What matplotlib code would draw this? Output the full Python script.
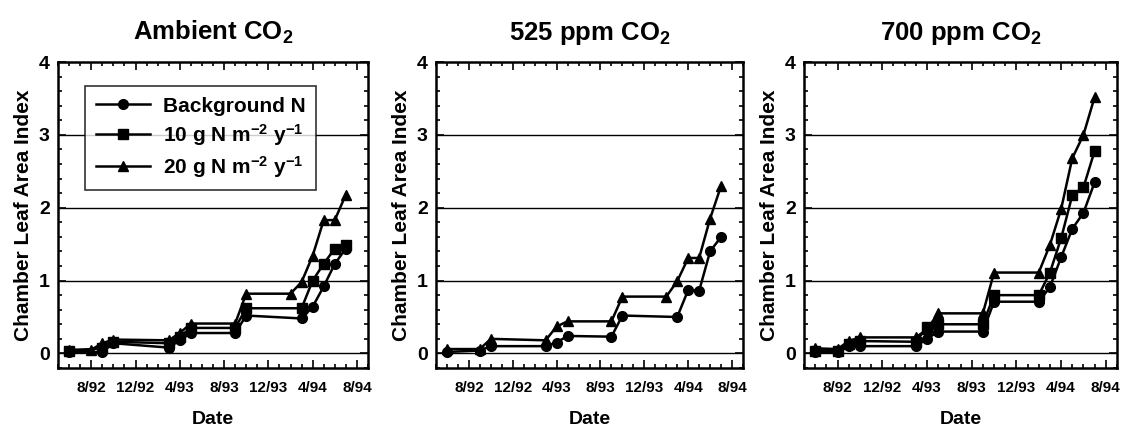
import numpy as np
import matplotlib.pyplot as plt
from matplotlib.ticker import MultipleLocator

plt.rcParams['font.family'] = ['Liberation Sans', 'DejaVu Sans']
plt.rcParams['font.weight'] = 'bold'
plt.rcParams['axes.titleweight'] = 'bold'
plt.rcParams['axes.labelweight'] = 'bold'
plt.rcParams['mathtext.fontset'] = 'custom'
plt.rcParams['mathtext.rm'] = 'Liberation Sans:bold'
plt.rcParams['mathtext.it'] = 'Liberation Sans:bold'
plt.rcParams['mathtext.bf'] = 'Liberation Sans:bold'
plt.rcParams['mathtext.default'] = 'rm'

# months counted from Jan 1992 (0 = 1/92)
tick_months = [7, 11, 15, 19, 23, 27, 31]
tick_labels = ["8/92", "12/92", "4/93", "8/93", "12/93", "4/94", "8/94"]

titles = ["Ambient CO$_2$", "525 ppm CO$_2$", "700 ppm CO$_2$"]
series_names = ["Background N", "10 g N m$^{-2}$ y$^{-1}$", "20 g N m$^{-2}$ y$^{-1}$"]
markers = ["o", "s", "^"]

# ambient CO2
amb_bg_x = [5, 8, 9, 14, 15, 16, 20, 21, 26, 27, 28, 29, 30]
amb_bg_y = [0.02, 0.02, 0.14, 0.08, 0.18, 0.28, 0.28, 0.52, 0.48, 0.64, 0.92, 1.23, 1.44]
amb_10_x = [5, 8, 9, 14, 15, 16, 20, 21, 26, 27, 28, 29, 30]
amb_10_y = [0.04, 0.07, 0.16, 0.14, 0.23, 0.35, 0.35, 0.62, 0.62, 1.00, 1.23, 1.44, 1.49]
amb_20_x = [5, 7, 8, 9, 14, 15, 16, 20, 21, 25, 26, 27, 28, 29, 30]
amb_20_y = [0.05, 0.05, 0.14, 0.19, 0.18, 0.28, 0.41, 0.41, 0.82, 0.82, 0.98, 1.34, 1.83, 1.83, 2.18]

# 525 ppm CO2 (no 10 g N series shown)
mid_bg_x = [5, 8, 9, 14, 15, 16, 20, 21, 26, 27, 28, 29, 30]
mid_bg_y = [0.02, 0.04, 0.10, 0.10, 0.15, 0.24, 0.23, 0.52, 0.50, 0.87, 0.86, 1.40, 1.60]
mid_20_x = [5, 8, 9, 14, 15, 16, 20, 21, 25, 26, 27, 28, 29, 30]
mid_20_y = [0.06, 0.06, 0.20, 0.18, 0.37, 0.44, 0.44, 0.78, 0.78, 0.99, 1.31, 1.31, 1.85, 2.30]

# 700 ppm CO2
high_bg_x = [5, 7, 8, 9, 14, 15, 16, 20, 21, 25, 26, 27, 28, 29, 30]
high_bg_y = [0.02, 0.02, 0.10, 0.10, 0.10, 0.20, 0.30, 0.30, 0.71, 0.71, 0.91, 1.32, 1.71, 1.93, 2.35]
high_10_x = [5, 7, 8, 9, 14, 15, 16, 20, 21, 25, 26, 27, 28, 29, 30]
high_10_y = [0.04, 0.04, 0.13, 0.17, 0.16, 0.36, 0.40, 0.40, 0.80, 0.80, 1.11, 1.58, 2.17, 2.28, 2.78]
high_20_x = [5, 7, 8, 9, 14, 15, 16, 20, 21, 25, 26, 27, 28, 29, 30]
high_20_y = [0.07, 0.06, 0.17, 0.22, 0.22, 0.33, 0.55, 0.55, 1.11, 1.11, 1.49, 1.98, 2.68, 3.00, 3.52]

panels = [
    [(amb_bg_x, amb_bg_y), (amb_10_x, amb_10_y), (amb_20_x, amb_20_y)],
    [(mid_bg_x, mid_bg_y), None, (mid_20_x, mid_20_y)],
    [(high_bg_x, high_bg_y), (high_10_x, high_10_y), (high_20_x, high_20_y)],
]

fig = plt.figure(figsize=(11.24, 4.32), dpi=100)
lefts = [58, 436, 804]
widths = [310, 307, 313]

for i, data in enumerate(panels):
    ax = fig.add_axes([lefts[i] / 1124, 64 / 432, widths[i] / 1124, 306 / 432])
    for yv in [0, 1, 2, 3]:
        ax.axhline(yv, color="black", lw=1.0, zorder=1)
    for j, s in enumerate(data):
        if s is None:
            continue
        ax.plot(s[0], s[1], color="black", lw=1.8, marker=markers[j],
                ms=7, label=series_names[j], zorder=3)
    ax.set_xlim(4, 32)
    ax.set_ylim(-0.2, 4)
    ax.set_xticks(tick_months)
    ax.set_xticklabels(tick_labels, fontsize=11)
    ax.xaxis.set_minor_locator(MultipleLocator(1))
    ax.set_yticks([0, 1, 2, 3, 4])
    ax.tick_params(axis="y", labelsize=14, pad=6)
    ax.yaxis.set_minor_locator(MultipleLocator(0.2))
    ax.tick_params(which="both", direction="in", top=True, right=True, width=1.2)
    ax.tick_params(which="major", length=6)
    ax.tick_params(which="minor", length=3)
    ax.tick_params(axis="x", pad=9)
    for sp in ax.spines.values():
        sp.set_linewidth(1.8)
    ax.set_xlabel("Date", fontsize=14, labelpad=12)
    ax.set_ylabel("Chamber Leaf Area Index", fontsize=15, labelpad=4)
    ax.set_title(titles[i], fontsize=18.5, pad=16)
    if i == 0:
        leg = ax.legend(loc="upper left", bbox_to_anchor=(0.055, 0.955), fontsize=15,
                        frameon=True, fancybox=False, edgecolor="black",
                        handlelength=2.6, borderpad=0.5, labelspacing=0.3,
                        handletextpad=0.6)
        leg.get_frame().set_linewidth(1.2)

fig.savefig("out.png", dpi=100)
